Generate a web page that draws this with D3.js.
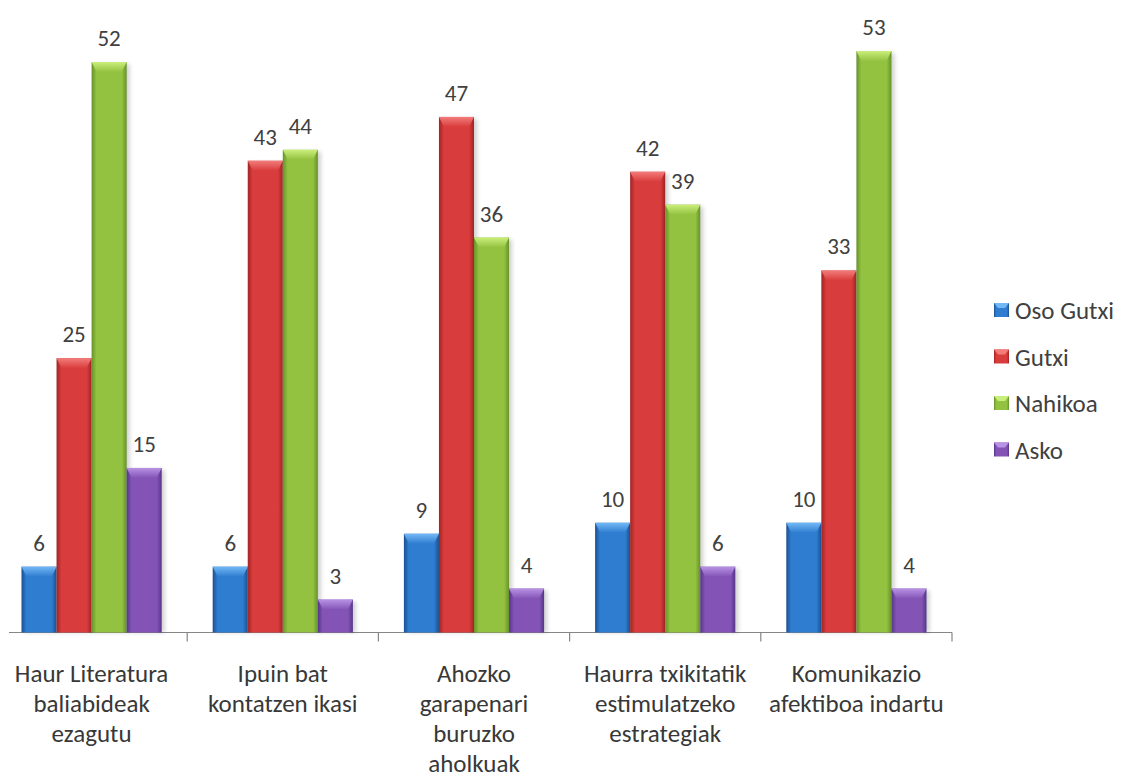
<!DOCTYPE html>
<html>
<head>
<meta charset="utf-8">
<script src="https://cdn.jsdelivr.net/npm/d3@7"></script>
<style>
  body { margin: 0; background: #ffffff; }
  svg text { font-family: Carlito, Lato, "Open Sans", sans-serif; }
</style>
</head>
<body>
<div id="content"></div>
<script>
var categories = [
  "Haur Literatura\nbaliabideak\nezagutu",
  "Ipuin bat\nkontatzen ikasi",
  "Ahozko\ngarapenari\nburuzko\naholkuak",
  "Haurra txikitatik\nestimulatzeko\nestrategiak",
  "Komunikazio\nafektiboa indartu"
];
var seriesNames = ["Oso Gutxi", "Gutxi", "Nahikoa", "Asko"];
var osoGutxi = [6, 6, 9, 10, 10];
var gutxi = [25, 43, 47, 42, 33];
var nahikoa = [52, 44, 36, 39, 53];
var asko = [15, 3, 4, 6, 4];

// colours per series: dark edge, middle, light top
var palette = [
  {dark: "#1b5090", mid: "#2f7dd0", light: "#72b8f6"},
  {dark: "#a02424", mid: "#d93c3c", light: "#f27c7a"},
  {dark: "#66922a", mid: "#93c241", light: "#caee7a"},
  {dark: "#553688", mid: "#8354b6", light: "#b892e4"}
];

var values = [osoGutxi, gutxi, nahikoa, asko];
var data = categories.map(function(c, i) {
  return {
    cat: c,
    vals: seriesNames.map(function(s, j) { return {series: j, value: values[j][i]}; })
  };
});

var width = 1121, height = 781;
var svg = d3.select("div#content").append("svg")
  .attr("width", width)
  .attr("height", height);

var defs = svg.append("defs");
palette.forEach(function(p, i) {
  var g = defs.append("linearGradient").attr("id", "side" + i)
    .attr("x1", 0).attr("x2", 1).attr("y1", 0).attr("y2", 0);
  g.append("stop").attr("offset", "0%").attr("stop-color", p.dark);
  g.append("stop").attr("offset", "14%").attr("stop-color", p.mid);
  g.append("stop").attr("offset", "86%").attr("stop-color", p.mid);
  g.append("stop").attr("offset", "100%").attr("stop-color", p.dark);

  var t = defs.append("linearGradient").attr("id", "top" + i)
    .attr("x1", 0).attr("x2", 0).attr("y1", 0).attr("y2", 1);
  t.append("stop").attr("offset", "0%").attr("stop-color", p.light);
  t.append("stop").attr("offset", "100%").attr("stop-color", p.mid);
});

var blur = defs.append("filter").attr("id", "shadow")
  .attr("x", "-20%").attr("y", "-5%").attr("width", "150%").attr("height", "110%");
blur.append("feGaussianBlur").attr("stdDeviation", 2);

var x0 = d3.scaleBand()
  .domain(categories)
  .range([-4, 952])
  .paddingInner(0)
  .paddingOuter(0);

var x1 = d3.scaleBand()
  .domain(d3.range(seriesNames.length))
  .range([25.5, x0.bandwidth() - 25.5])
  .padding(0);

var y = d3.scaleLinear()
  .domain([0, 55])
  .range([632.5, 632.5 - 55 * 10.97]);

// axis line and ticks between groups
var axis = svg.append("g")
  .attr("transform", "translate(0," + y(0) + ")");
axis.append("line")
  .attr("x1", 9).attr("x2", 952)
  .attr("stroke", "#868686").attr("stroke-width", 1.2);
axis.selectAll(".tick")
  .data(categories)
  .enter().append("line")
  .attr("class", "tick")
  .attr("x1", function(d) { return x0(d) + x0.bandwidth(); })
  .attr("x2", function(d) { return x0(d) + x0.bandwidth(); })
  .attr("y1", 0).attr("y2", 9)
  .attr("stroke", "#868686").attr("stroke-width", 1.2);

var groups = svg.selectAll(".group")
  .data(data)
  .enter().append("g")
  .attr("class", "group")
  .attr("transform", function(d) { return "translate(" + x0(d.cat) + ",0)"; });

var bw = x1.bandwidth();
var bars = groups.selectAll(".bar")
  .data(function(d) { return d.vals; })
  .enter().append("g")
  .attr("class", "bar");

// soft shadow
bars.append("rect")
  .attr("x", function(d) { return x1(d.series) + 3; })
  .attr("y", function(d) { return y(d.value) + 2; })
  .attr("width", bw)
  .attr("height", function(d) { return y(0) - y(d.value) - 2; })
  .attr("fill", "#000")
  .attr("opacity", 0.18)
  .attr("filter", "url(#shadow)");

bars.append("rect")
  .attr("x", function(d) { return x1(d.series); })
  .attr("y", function(d) { return y(d.value); })
  .attr("width", bw)
  .attr("height", function(d) { return y(0) - y(d.value); })
  .attr("fill", function(d) { return "url(#side" + d.series + ")"; });

// bevel on top of bars
bars.append("path")
  .attr("d", function(d) {
    var l = x1(d.series), t = y(d.value), bev = Math.min(10, (y(0) - t) / 2);
    return "M" + l + "," + t + "L" + (l + bw) + "," + t +
      "L" + (l + bw - 5) + "," + (t + bev) + "L" + (l + 5) + "," + (t + bev) + "Z";
  })
  .attr("fill", function(d) { return "url(#top" + d.series + ")"; });

bars.append("text")
  .attr("x", function(d) { return x1(d.series) + bw / 2; })
  .attr("y", function(d) { return y(d.value) - 16; })
  .attr("text-anchor", "middle")
  .attr("font-size", "23px")
  .attr("fill", "#404040")
  .text(function(d) { return d.value; });

// category labels
var labels = svg.selectAll(".cat")
  .data(categories)
  .enter().append("text")
  .attr("class", "cat")
  .attr("text-anchor", "middle")
  .attr("font-size", "25px")
  .attr("fill", "#383838")
  .attr("x", function(d) { return x0(d) + x0.bandwidth() / 2; })
  .attr("y", 682);
labels.each(function(d) {
  var el = d3.select(this);
  var cx = el.attr("x");
  d.split("\n").forEach(function(line, i) {
    el.append("tspan").attr("x", cx).attr("dy", i === 0 ? 0 : 30).text(line);
  });
});

// legend
var legend = svg.selectAll(".legend")
  .data(seriesNames)
  .enter().append("g")
  .attr("class", "legend")
  .attr("transform", function(d, i) { return "translate(994," + (310 + i * 46.5) + ")"; });

legend.append("rect")
  .attr("x", 0).attr("y", -7)
  .attr("width", 15).attr("height", 14)
  .attr("fill", function(d, i) { return "url(#side" + i + ")"; });
legend.append("path")
  .attr("d", "M0,-7L15,-7L11,-2L4,-2Z")
  .attr("fill", function(d, i) { return palette[i].light; });
legend.append("text")
  .attr("x", 21)
  .attr("y", 9)
  .attr("font-size", "25px")
  .attr("fill", "#404040")
  .text(function(d) { return d; });
</script>
</body>
</html>
